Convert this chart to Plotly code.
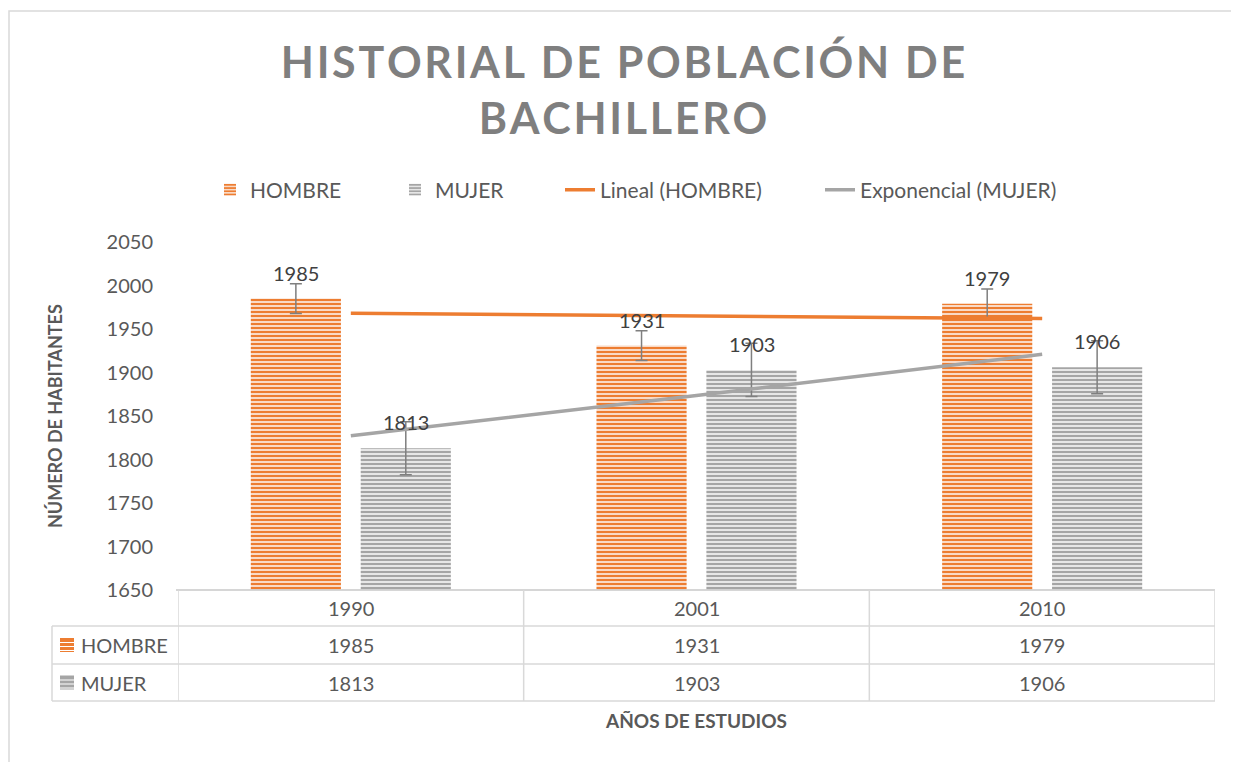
"""Excel-style column chart: HOMBRE / MUJER per year, with trendlines,
standard-error bars and a data table under the plot area."""

import numpy as np
import plotly.graph_objects as go

years = ["1990", "2001", "2010"]
hombre = [1985, 1931, 1979]
mujer = [1813, 1903, 1906]
series_names = ["HOMBRE", "MUJER"]
y_ticks = [1650, 1700, 1750, 1800, 1850, 1900, 1950, 2000, 2050]

ORANGE = "#ED7D31"
GRAY = "#A5A5A5"
TXT = "#595959"
GRID = "#D9D9D9"
FONT = "Lato"

W, H = 1239, 762
OFF = 8  # the page body margin shifts the figure by 8px; positions below are screen px
PX_L, PX_R, PX_T, PX_B = 178, 1215, 242, 590  # plot area on screen
L, T = PX_L - OFF, PX_T - OFF
R, B = W - (PX_R - OFF), H - (PX_B - OFF)
PW, PH = PX_R - PX_L, PX_B - PX_T


def px_x(px):
    return (px - PX_L) / PW


def px_y(py):
    return (PX_B - py) / PH


def spaced(s, gap="\u200a"):
    # Excel title uses wide character spacing; emulate with hair spaces
    return gap.join(s)


# Excel-style error bars (standard error) and trendlines, fitted on 1..n
xs = np.arange(1, len(years) + 1)
se_h = float(np.std(hombre, ddof=1) / np.sqrt(len(hombre)))
se_m = float(np.std(mujer, ddof=1) / np.sqrt(len(mujer)))
lin = np.polyfit(xs, hombre, 1)
trend_h = np.polyval(lin, xs)
expo = np.polyfit(xs, np.log(mujer), 1)
trend_m = np.exp(np.polyval(expo, xs))

fig = go.Figure()
for name, vals, col, bg, se, lg in [
    ("HOMBRE", hombre, ORANGE, "#FBE5D6", se_h, "legend"),
    ("MUJER", mujer, GRAY, "#EDEDED", se_m, "legend2"),
]:
    fig.add_trace(go.Bar(
        x=years, y=vals, name=name, legend=lg, showlegend=True,
        marker=dict(color=bg, line=dict(width=0),
                    pattern=dict(shape="-", fgcolor=col, bgcolor=bg,
                                 size=4, solidity=0.55, fillmode="replace")),
        error_y=dict(type="data", array=[se] * len(vals), color="#7F7F7F",
                     thickness=1.5, width=6),
    ))

fig.add_trace(go.Scatter(x=years, y=trend_h, mode="lines", name="Lineal (HOMBRE)",
                         legend="legend3", line=dict(color=ORANGE, width=3.5)))
fig.add_trace(go.Scatter(x=years, y=trend_m, mode="lines", name="Exponencial (MUJER)",
                         legend="legend4", line=dict(color=GRAY, width=3.5)))

# data labels above the bars (x given as category index)
for vals, shift in [(hombre, -55), (mujer, 55)]:
    for i, v in enumerate(vals):
        fig.add_annotation(x=i, y=v, text=str(v), showarrow=False, xshift=shift,
                           yshift=26, xanchor="center", yanchor="middle",
                           font=dict(family=FONT, size=20, color="#404040"))

# data table under the plot
rows_py = [590, 626, 664, 701]
shapes = []
for py in rows_py[1:]:
    shapes.append(dict(type="line", xref="paper", yref="paper", x0=px_x(52), x1=px_x(1215),
                       y0=px_y(py), y1=px_y(py), line=dict(color=GRID, width=1.5)))
shapes.append(dict(type="line", xref="paper", yref="paper", x0=px_x(176), x1=px_x(1215),
                   y0=0, y1=0, line=dict(color="#C8C8C8", width=1.5)))
for k in range(len(years) + 1):
    shapes.append(dict(type="line", xref="x", yref="paper", x0=k - 0.5, x1=k - 0.5,
                       y0=0, y1=px_y(701), line=dict(color=GRID, width=1.5)))
shapes.append(dict(type="line", xref="paper", yref="paper", x0=px_x(52), x1=px_x(52),
                   y0=px_y(626), y1=px_y(701), line=dict(color=GRID, width=1.5)))
# chart border
shapes.append(dict(type="rect", xref="paper", yref="paper", x0=px_x(9), x1=px_x(1260),
                   y0=px_y(790), y1=px_y(11), line=dict(color=GRID, width=1.5)))

text_font = dict(family=FONT, size=20, color=TXT)
cell = dict(showarrow=False, xanchor="center", yanchor="middle", yref="paper", font=text_font)
for i, yr in enumerate(years):
    fig.add_annotation(x=i, y=px_y(608), text=yr, **cell)
for r, (name, vals, col) in enumerate(zip(series_names, [hombre, mujer], [ORANGE, GRAY])):
    yc = (rows_py[r + 1] + rows_py[r + 2]) / 2
    for i, v in enumerate(vals):
        fig.add_annotation(x=i, y=px_y(yc), text=str(v), **cell)
    fig.add_annotation(x=px_x(79), y=px_y(yc), xref="paper", yref="paper", text=name,
                       showarrow=False, xanchor="left", yanchor="middle", font=text_font)
    shapes.append(dict(type="rect", xref="paper", yref="paper", x0=px_x(60), x1=px_x(74),
                       y0=px_y(yc + 7), y1=px_y(yc - 7), fillcolor=col, line=dict(width=0)))
    for d in (-4, 0, 4):
        shapes.append(dict(type="line", xref="paper", yref="paper", x0=px_x(60), x1=px_x(74),
                           y0=px_y(yc + d + 1.5), y1=px_y(yc + d + 1.5),
                           line=dict(color="white", width=1)))

fig.add_annotation(x=px_x(696), y=px_y(720), xref="paper", yref="paper",
                   text="<b>AÑOS DE ESTUDIOS</b>", showarrow=False,
                   xanchor="center", yanchor="middle",
                   font=dict(family=FONT, size=19, color=TXT))
fig.add_annotation(x=px_x(55), y=0.5, xref="paper", yref="paper", textangle=-90,
                   text="<b>NÚMERO DE HABITANTES</b>", showarrow=False,
                   xanchor="center", yanchor="middle",
                   font=dict(family=FONT, size=18, color=TXT))


def legend_at(px_left):
    return dict(orientation="h", xref="container", yref="container",
                x=(px_left - OFF) / W, xanchor="left", y=1 - (190 - OFF) / H,
                yanchor="middle", bgcolor="rgba(0,0,0,0)", visible=True,
                font=dict(family=FONT, size=21, color=TXT))


title = spaced("HISTORIAL DE POBLACIÓN DE") + "<br>" + spaced("BACHILLERO")
fig.update_layout(
    width=W, height=H,
    margin=dict(l=L, r=R, t=T, b=B, autoexpand=False),
    paper_bgcolor="white", plot_bgcolor="white",
    barmode="group", bargap=0.364, bargroupgap=0.18,
    title=dict(text="<b>" + title + "</b>",
               x=(623 - OFF) / W, xanchor="center", y=1 - 70 / H, yanchor="top",
               font=dict(family=FONT, size=43, color="#7F7F7F")),
    showlegend=True,
    legend=legend_at(210),
    legend2=legend_at(395),
    legend3=legend_at(560),
    legend4=legend_at(820),
    shapes=shapes,
    font=dict(family=FONT, color=TXT),
)
fig.update_xaxes(type="category", range=[-0.5, len(years) - 0.5], showticklabels=False,
                 showgrid=False, showline=False, zeroline=False, automargin=False)
fig.update_yaxes(range=[1650, 2050], tickvals=y_ticks, showgrid=False, showline=False,
                 zeroline=False, ticks="", ticklabelstandoff=24, automargin=False,
                 tickfont=dict(family=FONT, size=20, color=TXT))

fig.write_html("out.html")
